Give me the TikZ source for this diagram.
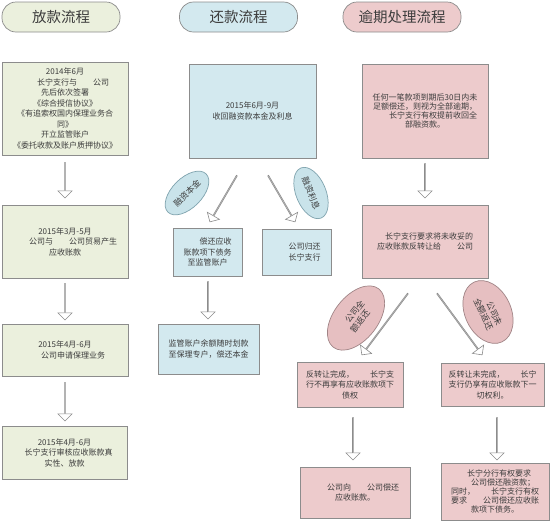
\documentclass[tikz,border=0pt]{standalone}
\usepackage{fontspec}
\newfontfamily\cjk{Noto Sans CJK SC}
\usetikzlibrary{shapes.geometric,shapes.arrows,calc}
\definecolor{gfill}{HTML}{EBF0DD}
\definecolor{bfill}{HTML}{D3E9EF}
\definecolor{pfill}{HTML}{EDCBCC}
\definecolor{bord}{HTML}{8C8C8C}
\definecolor{bbord}{HTML}{7FA3AE}
\definecolor{pbord}{HTML}{A08486}
\definecolor{efillb}{HTML}{C9E3EA}
\definecolor{efillp}{HTML}{E6BFC1}
\definecolor{txt}{HTML}{3C3C3C}
\newcommand\blk[1]{\hspace*{#1em}}
\newcommand\barrow[2]{\path let \p1=($(#2)-(#1)$), \n1={atan2(\y1,\x1)}, \n2={veclen(\x1,\y1)} in node[blockarr, rotate=\n1, minimum height=\n2] at ($(#1)!0.5!(#2)$) {};}
\tikzset{
  box/.style={draw=bord, line width=0.7pt, align=center, inner sep=1pt, text=txt,
    font=\cjk\fontsize{8}{10.5}\selectfont},
  gbox/.style={box, fill=gfill},
  bbox/.style={box, fill=bfill},
  pbox/.style={box, fill=pfill},
  tight/.style={font=\cjk\fontsize{8}{8.8}\selectfont},
  title/.style={draw=bord, line width=0.7pt, rounded corners=14pt, minimum width=118pt,
    minimum height=30pt, text=txt, font=\cjk\fontsize{14.5}{16}\selectfont},
  blockarr/.style={single arrow, draw=bord, fill=white, line width=0.6pt, minimum width=14pt,
    single arrow head extend=3.5pt, single arrow head indent=0pt, inner sep=0pt},
  oval/.style={ellipse, line width=0.7pt, align=center, inner sep=0pt, text=txt,
    font=\cjk\fontsize{8.5}{10}\selectfont},
  boval/.style={oval, draw=bbord, fill=efillb},
  poval/.style={oval, draw=pbord, fill=efillp}
}
\begin{document}
\begin{tikzpicture}[x=1pt,y=-1pt]
\useasboundingbox (0,0) rectangle (553,523);
% titles
\node[title, fill=gfill] (t1) at (61,17) {放款流程};
\node[title, fill=bfill] (t2) at (238.5,17) {还款流程};
\node[title, fill=pfill] (t3) at (402,17) {逾期处理流程};
% column A
\node[gbox, minimum width=126pt, minimum height=93pt] (a1) at (65,108.5)
  {2014年6月\\\blk{2}长宁支行与\blk{2}公司\\先后依次签署\\《综合授信协议》\\《有追索权国内保理业务合\\同》\\开立监管账户\\《委托收款及账户质押协议》};
\node[gbox, minimum width=126pt, minimum height=73pt] (a2) at (65,241.5)
  {2015年3月-5月\\\blk{2}公司与\blk{2}公司贸易产生\\应收账款};
\node[gbox, minimum width=126pt, minimum height=52pt] (a3) at (65,350)
  {2015年4月-6月\\\blk{2}公司申请保理业务};
\node[gbox, minimum width=125pt, minimum height=53pt] (a4) at (64.5,452.5)
  {2015年4月-6月\\\blk{1}长宁支行审核应收账款真\\实性、放款};
% column B
\node[bbox, minimum width=127pt, minimum height=94pt] (b1) at (252.5,111)
  {2015年6月-9月\\收回融资款本金及利息};
\node[bbox, minimum width=69pt, minimum height=48pt] (b2) at (207.5,252)
  {\blk{2}偿还应收\\账款项下债务\\至监管账户};
\node[bbox, minimum width=69pt, minimum height=46pt] (b3) at (296.5,252)
  {\blk{2}公司归还\\\blk{2}长宁支行};
\node[bbox, minimum width=101pt, minimum height=50pt] (b4) at (208.5,349)
  {监管账户余额随时划款\\至保理专户，偿还本金};
\node[boval, minimum width=54pt, minimum height=30pt, rotate=45] (e1) at (187,193) {融资本金};
\node[boval, minimum width=54pt, minimum height=30pt, rotate=-68] (e2) at (311,193) {融资利息};
% column C
\node[pbox, tight, minimum width=126pt, minimum height=94pt] (c1) at (425,111)
  {任何一笔款项到期后30日内未\\足额偿还，则视为全部逾期，\\\blk{2}长宁支行有权提前收回全\\部融资款。};
\node[pbox, minimum width=126pt, minimum height=73pt] (c2) at (425,241.5)
  {\blk{1}长宁支行要求将未收妥的\\应收账款反转让给\blk{2}公司};
\node[pbox, minimum width=106pt, minimum height=45pt] (c3) at (350,384.5)
  {反转让完成，\blk{2}长宁支\\行不再享有应收账款项下\\债权};
\node[pbox, minimum width=103pt, minimum height=43pt] (c4) at (492.5,384.5)
  {反转让未完成，\blk{2}长宁\\支行仍享有应收账款下一\\切权利。};
\node[pbox, minimum width=110pt, minimum height=51pt] (c5) at (355,492.5)
  {\blk{2}公司向\blk{2}公司偿还\\应收账款。};
\node[pbox, tight, minimum width=108pt, minimum height=57pt] (c6) at (495,491.5)
  {\blk{1}长宁分行有权要求\\\blk{2}公司偿还融资款；\\同时，\blk{2}长宁支行有权\\要求\blk{2}公司偿还应收账\\款项下债务。};
\node[poval, minimum width=74pt, minimum height=44pt, rotate=52] (e3) at (356,318) {\blk{1}公司全\\额返还};
\node[poval, minimum width=66pt, minimum height=46pt, rotate=-65] (e4) at (488,312) {\blk{1}公司未\\全额返还};
% arrow end points
\coordinate (a1s) at ($(a1.south)+(0,7)$);   \coordinate (a2n) at ($(a2.north)+(0,-7)$);
\coordinate (a2s) at ($(a2.south)+(0,5)$);   \coordinate (a3n) at ($(a3.north)+(0,-4)$);
\coordinate (a3s) at ($(a3.south)+(0,6)$);   \coordinate (a4n) at ($(a4.north)+(0.5,-5)$);
\coordinate (b1l) at ($(b1.south)+(-15.5,17)$); \coordinate (b2n) at ($(b2.north)+(2.5,-6)$);
\coordinate (b1r) at ($(b1.south)+(15.5,17)$);  \coordinate (b3n) at ($(b3.north)+(-1.5,-7)$);
\coordinate (b2s) at ($(b2.south)+(0.5,5)$); \coordinate (b4n) at ($(b4.north)+(-0.5,-5)$);
\coordinate (c1s) at ($(c1.south)+(0,5)$);   \coordinate (c2n) at ($(c2.north)+(0,-7)$);
\coordinate (c2l) at ($(c2.south)+(-17,15)$); \coordinate (c3n) at ($(c3.north)+(12,-7)$);
\coordinate (c2r) at ($(c2.south)+(12,15)$);  \coordinate (c4n) at ($(c4.north)+(-10.5,-8)$);
\coordinate (c3s) at ($(c3.south)+(3,10)$);  \coordinate (c5n) at ($(c5.north)+(-2,-7)$);
\coordinate (c4s) at ($(c4.south)+(4.5,11)$); \coordinate (c6n) at ($(c6.north)+(2,-3)$);
% arrows
\barrow{a1s}{a2n}
\barrow{a2s}{a3n}
\barrow{a3s}{a4n}
\barrow{b1l}{b2n}
\barrow{b1r}{b3n}
\barrow{b2s}{b4n}
\barrow{c1s}{c2n}
\barrow{c2l}{c3n}
\barrow{c2r}{c4n}
\barrow{c3s}{c5n}
\barrow{c4s}{c6n}
\end{tikzpicture}
\end{document}
